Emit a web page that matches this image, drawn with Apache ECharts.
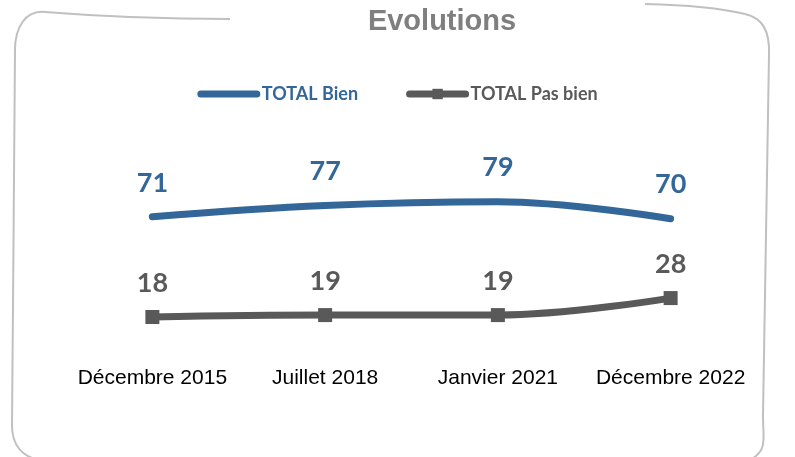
<!DOCTYPE html>
<html lang="fr">
<head>
    <meta charset="UTF-8">
    <title>Evolutions</title>
    <script src="https://cdn.jsdelivr.net/npm/echarts@6/dist/echarts.min.js"></script>
    <style>
        html, body { margin: 0; padding: 0; background: #fff; }
        #main { width: 795px; height: 457px; }
    </style>
</head>
<body>
<div id="main"></div>
<script type="text/javascript">
var periodes = ['Décembre 2015', 'Juillet 2018', 'Janvier 2021', 'Décembre 2022'];
var totalBien = [71, 77, 79, 70];
var totalPasBien = [18, 19, 19, 28];

var chart = echarts.init(document.getElementById('main'));

var labelFont = 'Lato, "Open Sans", sans-serif';
var frameStyle = { fill: 'none', stroke: '#c0c0c0', lineWidth: 2 };

// cadre "dessiné à la main" autour du graphique
function courbe(x1, y1, cx1, cy1, cx2, cy2, x2, y2) {
    return {
        type: 'bezierCurve',
        shape: { x1: x1, y1: y1, cpx1: cx1, cpy1: cy1, cpx2: cx2, cpy2: cy2, x2: x2, y2: y2 },
        style: frameStyle,
        silent: true
    };
}

var option = {
    backgroundColor: '#ffffff',
    animation: false,
    title: {
        text: 'Evolutions',
        left: 437,
        textAlign: 'center',
        top: 2,
        textStyle: {
            fontFamily: '"Liberation Sans", Arial, sans-serif',
            fontWeight: 'bold',
            fontSize: 29,
            color: '#7f7f7f'
        }
    },
    legend: {
        top: 80,
        left: 'center',
        itemWidth: 56,
        itemHeight: 13,
        itemGap: 48,
        lineStyle: { width: 7, cap: 'round', opacity: 1 },
        textStyle: {
            fontFamily: labelFont,
            fontWeight: 'bold',
            fontSize: 18
        },
        data: [
            { name: 'TOTAL Bien', textStyle: { color: '#336699' } },
            { name: 'TOTAL Pas bien', textStyle: { color: '#595959' } }
        ]
    },
    grid: {
        left: 66,
        right: 38,
        top: 162,
        bottom: 106
    },
    xAxis: {
        type: 'category',
        data: periodes,
        boundaryGap: true,
        axisLine: { show: false },
        axisTick: { show: false },
        axisLabel: {
            margin: 17,
            fontFamily: '"Liberation Sans", Arial, sans-serif',
            fontSize: 21,
            color: '#000000',
            interval: 0
        }
    },
    yAxis: {
        type: 'value',
        min: 0,
        max: 100,
        show: false,
        splitLine: { show: false }
    },
    series: [
        {
            name: 'TOTAL Bien',
            type: 'line',
            data: totalBien,
            smooth: 0.4,
            symbol: 'circle',
            symbolSize: 1,
            color: '#336699',
            itemStyle: { color: '#336699', opacity: 0 },
            lineStyle: { width: 7, cap: 'round', color: '#336699' },
            label: {
                show: true,
                position: 'top',
                distance: 20,
                fontFamily: labelFont,
                fontWeight: 'bold',
                fontSize: 27,
                color: '#336699',
                opacity: 1
            }
        },
        {
            name: 'TOTAL Pas bien',
            type: 'line',
            data: totalPasBien,
            smooth: 0.4,
            symbol: 'rect',
            symbolSize: 14,
            color: '#595959',
            itemStyle: { color: '#595959' },
            lineStyle: { width: 7, color: '#595959' },
            label: {
                show: true,
                position: 'top',
                distance: 13,
                fontFamily: labelFont,
                fontWeight: 'bold',
                fontSize: 27,
                color: '#595959'
            }
        }
    ],
    graphic: [
        courbe(230, 19, 180, 19, 120, 18, 45, 12),
        courbe(45, 12, 25, 10, 15, 28, 15, 50),
        courbe(15, 50, 14, 200, 13, 300, 12, 425),
        courbe(12, 425, 12, 445, 22, 457, 40, 460),
        courbe(645, 4, 690, 5, 720, 8, 745, 14),
        courbe(745, 14, 762, 18, 770, 30, 769, 55),
        courbe(769, 55, 767, 200, 764, 330, 763, 415),
        courbe(763, 415, 763, 440, 768, 450, 750, 460)
    ]
};

chart.setOption(option);
</script>
</body>
</html>
